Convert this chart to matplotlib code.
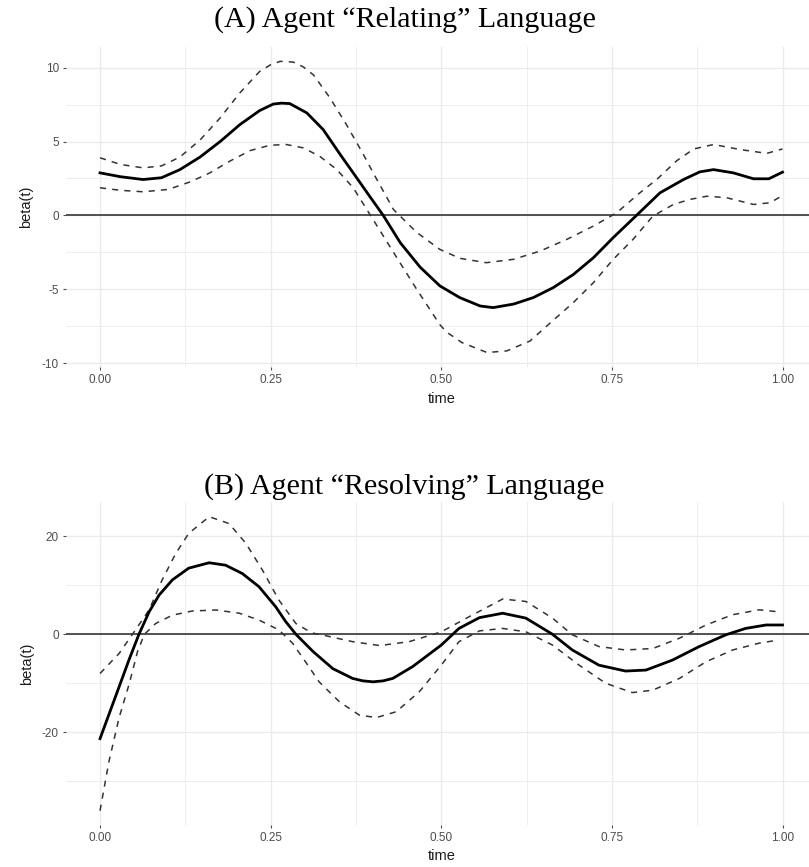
import matplotlib.pyplot as plt
import numpy as np

plt.rcParams['axes.unicode_minus'] = False
plt.rcParams['font.family'] = 'Liberation Sans'

# ---- Panel A : Agent "Relating" Language ----
tA_fit = [0, 0.03, 0.063, 0.09, 0.117, 0.1465, 0.176, 0.205, 0.234, 0.254, 0.266, 0.278, 0.303,
          0.327, 0.352, 0.376, 0.395, 0.415, 0.44, 0.469, 0.498, 0.527, 0.557, 0.576, 0.606,
          0.635, 0.664, 0.6935, 0.723, 0.752, 0.786, 0.8205, 0.855, 0.879, 0.899, 0.928,
          0.9575, 0.98, 1.0]
fitA = [2.88, 2.62, 2.43, 2.55, 3.1, 3.95, 5.0, 6.15, 7.1, 7.54, 7.6, 7.57, 6.94,
        5.81, 4.12, 2.55, 1.3, 0.0, -1.85, -3.5, -4.77, -5.56, -6.13, -6.24, -6.0,
        -5.56, -4.89, -4.0, -2.86, -1.5, 0.0, 1.53, 2.43, 2.95, 3.1, 2.88,
        2.48, 2.48, 2.93]

tA_up = [0, 0.03, 0.063, 0.09, 0.117, 0.1465, 0.176, 0.205, 0.234, 0.25, 0.264, 0.283, 0.298,
         0.313, 0.337, 0.361, 0.386, 0.40, 0.43, 0.464, 0.498, 0.527, 0.566, 0.606, 0.645,
         0.684, 0.723, 0.757, 0.791, 0.8156, 0.845, 0.87, 0.899, 0.938, 0.977, 1.0]
upA = [3.9, 3.45, 3.22, 3.35, 3.95, 5.1, 6.6, 8.3, 9.75, 10.2, 10.43, 10.38, 10.05,
       9.5, 7.95, 6.15, 4.12, 2.9, 0.4, -1.15, -2.3, -2.9, -3.2, -2.97, -2.41,
       -1.62, -0.72, 0.18, 1.53, 2.43, 3.7, 4.5, 4.8, 4.46, 4.2, 4.5]

tA_lo = [0, 0.03, 0.063, 0.10, 0.132, 0.161, 0.19, 0.22, 0.249, 0.273, 0.298, 0.322, 0.347,
         0.371, 0.40, 0.43, 0.464, 0.498, 0.508, 0.53, 0.567, 0.596, 0.63, 0.664, 0.6935,
         0.723, 0.752, 0.781, 0.81, 0.84, 0.864, 0.889, 0.918, 0.9575, 0.982, 1.0]
loA = [1.87, 1.7, 1.6, 1.76, 2.27, 2.88, 3.67, 4.39, 4.75, 4.8, 4.57, 4.0, 3.1,
       1.87, -0.27, -2.5, -5.0, -7.4, -7.9, -8.6, -9.28, -9.17, -8.5, -7.1, -5.9,
       -4.55, -2.97, -1.62, -0.05, 0.74, 1.08, 1.3, 1.2, 0.74, 0.86, 1.35]

# ---- Panel B : Agent "Resolving" Language ----
tB_fit = [0, 0.014, 0.028, 0.0425, 0.057, 0.072, 0.0865, 0.106, 0.13, 0.16, 0.184, 0.2085,
          0.233, 0.2575, 0.272, 0.287, 0.312, 0.341, 0.37, 0.385, 0.40, 0.415, 0.429, 0.458,
          0.5, 0.526, 0.556, 0.59, 0.624, 0.663, 0.692, 0.731, 0.77, 0.80, 0.839, 0.878,
          0.917, 0.946, 0.976, 1.0]
fitB = [-21.3, -16.0, -10.7, -5.2, 0.0, 4.6, 8.0, 11.1, 13.5, 14.6, 14.1, 12.4,
        9.7, 5.6, 2.6, 0.0, -3.5, -7.0, -9.0, -9.5, -9.7, -9.5, -9.0, -6.6,
        -2.2, 1.2, 3.4, 4.3, 3.3, 0.0, -3.2, -6.3, -7.5, -7.3, -5.25, -2.5,
        -0.1, 1.2, 1.9, 1.9]

tB_up = [0, 0.028, 0.052, 0.072, 0.091, 0.111, 0.13, 0.16, 0.189, 0.2135, 0.238, 0.262, 0.287,
         0.31, 0.331, 0.37, 0.41, 0.453, 0.5, 0.541, 0.59, 0.624, 0.663, 0.692, 0.731, 0.77,
         0.81, 0.849, 0.888, 0.927, 0.966, 0.993]
upB = [-8.0, -3.9, 0.9, 5.0, 11.1, 16.5, 20.6, 24.0, 22.6, 18.6, 13.1, 7.0, 2.2,
       0.3, -0.3, -1.5, -2.3, -1.5, 0.5, 3.6, 7.2, 6.7, 3.3, -0.1, -2.5, -3.2,
       -2.9, -0.8, 1.9, 4.0, 5.0, 4.6]

tB_lo = [0, 0.013, 0.028, 0.043, 0.055, 0.065, 0.0815, 0.106, 0.135, 0.17, 0.204, 0.233, 0.262,
         0.282, 0.302, 0.321, 0.351, 0.38, 0.405, 0.434, 0.468, 0.5, 0.526, 0.556, 0.59, 0.624,
         0.663, 0.702, 0.741, 0.78, 0.81, 0.849, 0.888, 0.927, 0.966, 0.993]
loB = [-36.0, -26.0, -17.0, -10.0, -3.5, 0.0, 2.2, 3.9, 4.75, 4.96, 4.3, 2.9, 0.9,
       -1.8, -5.8, -9.7, -13.8, -16.5, -17.0, -15.8, -11.7, -6.3, -1.5, 0.7, 1.2, 0.5,
       -2.2, -6.3, -10.0, -11.9, -11.4, -9.0, -5.6, -3.2, -1.8, -1.2]

panels = [
    dict(title='(A) Agent \u201cRelating\u201d Language', fit=(tA_fit, fitA), up=(tA_up, upA),
         lo=(tA_lo, loA), yticks=[-10, -5, 0, 5, 10], yminor=[-7.5, -2.5, 2.5, 7.5],
         ylim=(-10.26, 11.38), pos=[65.9, 47.3, 367.0], title_y=20, xlab_y=399),
    dict(title='(B) Agent \u201cResolving\u201d Language', fit=(tB_fit, fitB), up=(tB_up, upB),
         lo=(tB_lo, loB), yticks=[-20, 0, 20], yminor=[-30, -10, 10],
         ylim=(-39.0, 27.1), pos=[65.9, 501.5, 825.4], title_y=487, xlab_y=856),
]

W, H = 809, 867
fig = plt.figure(figsize=(W / 100, H / 100), dpi=100)

xticks = [0, 0.25, 0.5, 0.75, 1.0]
xminor = [0.125, 0.375, 0.625, 0.875]
grid_c = '#ebebeb'

for p in panels:
    left, top, bottom = p['pos']
    ax = fig.add_axes([left / W, 1 - bottom / H, 1 - left / W, (bottom - top) / H])
    ax.set_xlim(-0.05, (W - 100) / 682.5)
    ax.set_ylim(*p['ylim'])
    for s in ax.spines.values():
        s.set_visible(False)
    for v in xticks:
        ax.axvline(v, color=grid_c, lw=1.0, zorder=0)
    for v in xminor:
        ax.axvline(v, color=grid_c, lw=0.6, zorder=0)
    for v in p['yticks']:
        ax.axhline(v, color=grid_c, lw=1.0, zorder=0)
    for v in p['yminor']:
        ax.axhline(v, color=grid_c, lw=0.6, zorder=0)
    ax.axhline(0, color='#444444', lw=1.3, zorder=1)

    ax.plot(*p['up'], color='#333333', lw=1.1, ls=(0, (4, 4)), zorder=2)
    ax.plot(*p['lo'], color='#333333', lw=1.1, ls=(0, (4, 4)), zorder=2)
    ax.plot(*p['fit'], color='black', lw=2.0, zorder=3, solid_joinstyle='round')

    ax.set_xticks(xticks)
    ax.set_xticklabels(['0.00', '0.25', '0.50', '0.75', '1.00'])
    ax.set_yticks(p['yticks'])
    ax.set_yticklabels([str(v) for v in p['yticks']])
    ax.tick_params(axis='both', colors='#4d4d4d', labelsize=8.5, length=2.5, width=0.8, pad=2.5)
    ax.set_ylabel('beta(t)', fontsize=10.5, color='#1a1a1a', labelpad=6)

    fig.text(0.5, 1 - p['title_y'] / H, p['title'],
             family='Liberation Serif', fontsize=21.6, ha='center', va='center')
    fig.text((100 + 782.5) / 2 / W, 1 - p['xlab_y'] / H, 'time', fontsize=10.5,
             color='#1a1a1a', ha='center', va='center')

fig.savefig('out.png', dpi=100)
